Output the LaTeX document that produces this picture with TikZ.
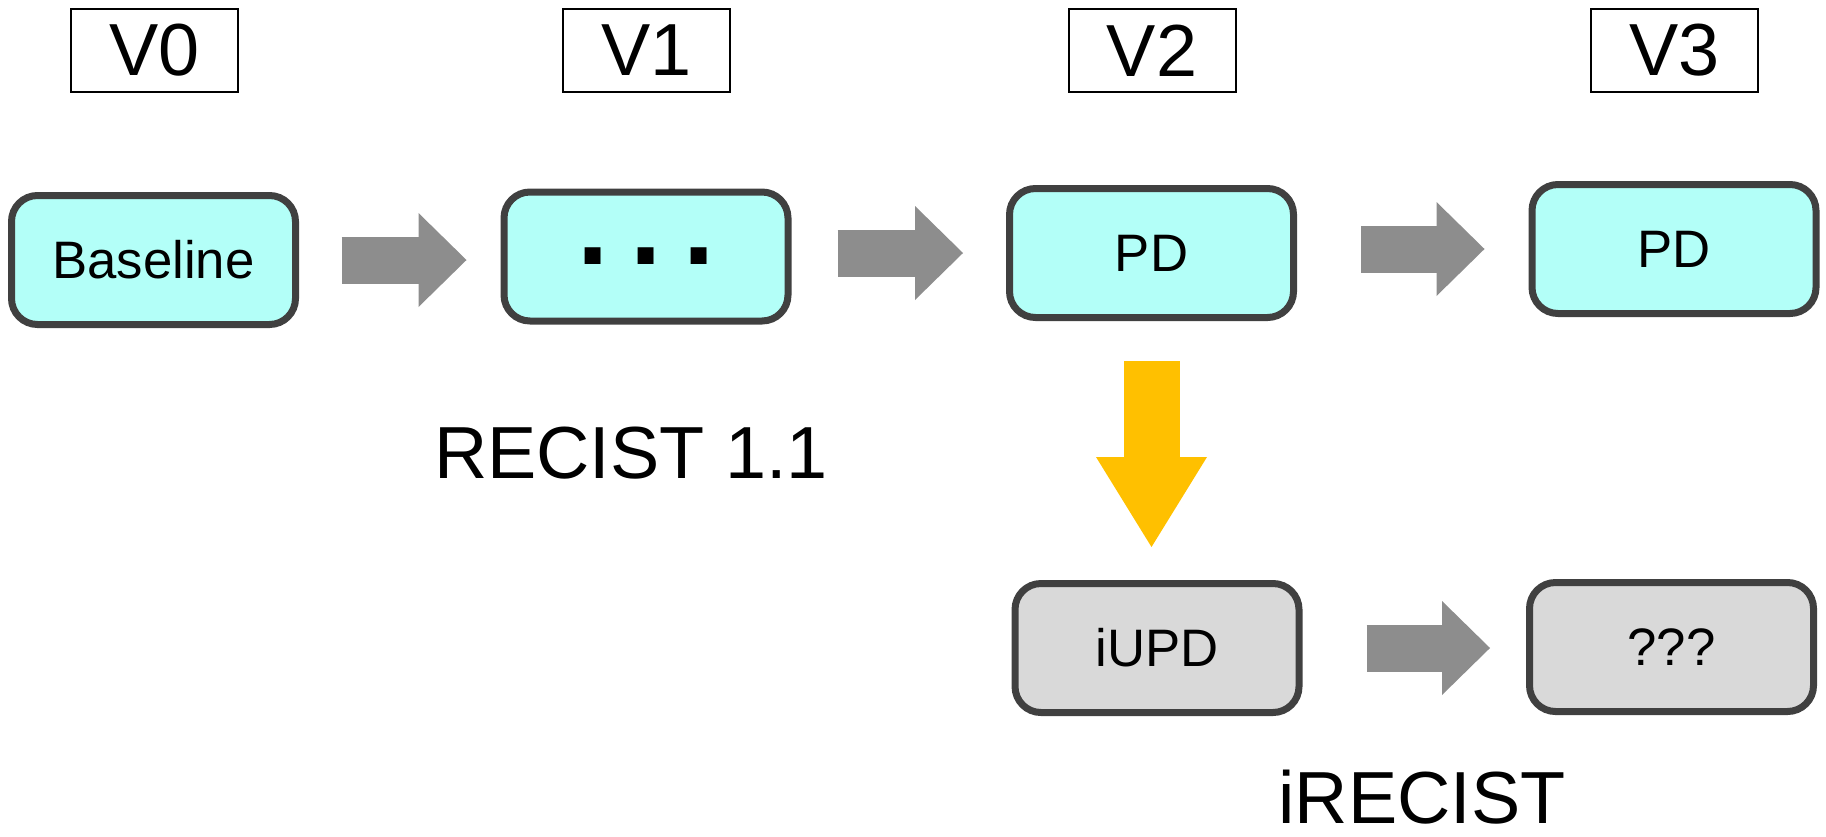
\documentclass[tikz,border=0pt]{standalone}
\usepackage{fontspec}
\setmainfont{Liberation Sans}
\usetikzlibrary{arrows.meta,calc}
\definecolor{boxcyan}{RGB}{179,255,248}
\definecolor{boxgray}{RGB}{217,217,217}
\definecolor{boxedge}{RGB}{64,64,64}
\definecolor{flowgray}{RGB}{141,141,141}
\definecolor{flowyellow}{RGB}{255,192,0}

\begin{document}
\begin{tikzpicture}[x=0.1mm,y=-0.1mm,line join=miter,
  visit/.style={draw=black,line width=0.2mm,fill=white,minimum width=16.7mm,minimum height=8.3mm,inner sep=0pt,font=\fontsize{21}{24}\selectfont},
  stage/.style={draw=boxedge,line width=0.7mm,rounded corners=2.6mm,minimum width=28.4mm,minimum height=12.9mm,inner sep=0pt,font=\fontsize{15}{18}\selectfont},
  crit/.style={inner sep=0pt,font=\fontsize{21}{24}\selectfont},
  flowarrow/.style={draw=flowgray,line width=4.7mm,-{Triangle[length=4.8mm,width=9.4mm,line width=0pt]}},
  droparrow/.style={draw=flowyellow,line width=5.6mm,-{Triangle[length=9mm,width=11.1mm,line width=0pt]}}]
\useasboundingbox (0,0) rectangle (1826,836);
% visit headers
\node[visit] (v0) at (154.5,50.5) {V0};
\node[visit] (v1) at (646.5,50.5) {V1};
\node[visit] (v2) at (1152,50.5) {V2};
\node[visit] (v3) at (1674.5,50.5) {V3};
% assessment boxes
\node[stage,fill=boxcyan] (base) at (153.5,260) {Baseline};
\node[stage,fill=boxcyan] (dots) at (646,256.5) {\fontsize{32}{32}\bfseries .\hspace{2.2mm}.\hspace{2.2mm}.};
\node[stage,fill=boxcyan] (pd2) at (1151.5,253) {PD};
\node[stage,fill=boxcyan] (pd3) at (1674,249) {PD};
\node[stage,fill=boxgray] (iupd) at (1157,648) {iUPD};
\node[stage,fill=boxgray] (unk) at (1671.5,647) {???};
% criteria labels
\node[crit] (recist) at (631,453) {RECIST 1.1};
\node[crit] (irecist) at (1422,797) {iRECIST};
% arrows
\draw[flowarrow,shorten <=4.25mm,shorten >=3.4mm] (base.east) -- (base.east -| dots.west);
\draw[flowarrow,shorten <=4.6mm,shorten >=4.3mm] (dots.east |- pd2.west) -- (pd2.west);
\draw[flowarrow,shorten <=6.4mm,shorten >=4.4mm] (pd2.east |- pd3.west) -- (pd3.west);
\draw[flowarrow,shorten <=6.4mm,shorten >=3.6mm] (iupd.east) -- (iupd.east -| unk.west);
\draw[droparrow,shorten <=4.0mm,shorten >=3.3mm] (pd2.south) -- (pd2.south |- iupd.north);
\end{tikzpicture}
\end{document}
